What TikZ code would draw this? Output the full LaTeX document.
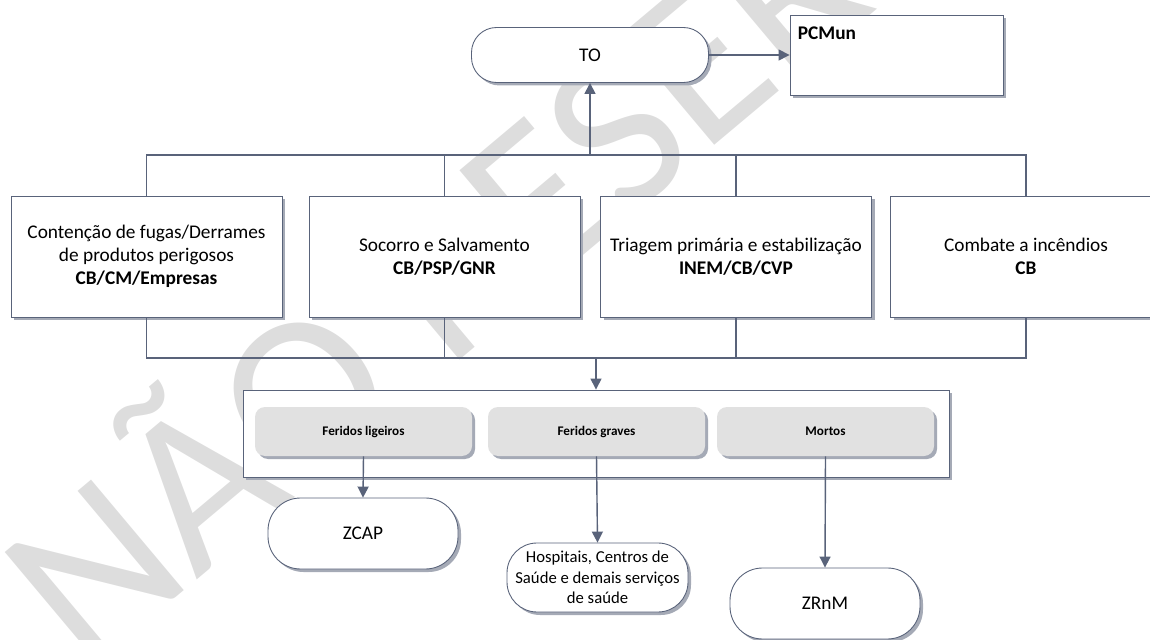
\documentclass[tikz,border=0pt]{standalone}
\usepackage{fontspec}
\setmainfont{Carlito}
\usetikzlibrary{arrows.meta,shadows,positioning}
\definecolor{linec}{RGB}{89,99,122}
\definecolor{wmark}{RGB}{221,221,221}
\definecolor{shadowc}{RGB}{165,170,182}
\definecolor{tabfill}{RGB}{225,225,225}
\begin{document}
\begin{tikzpicture}[
    every node/.style={font=\fontsize{11}{13}\selectfont},
    shad/.style={drop shadow={shadow xshift=0.06cm, shadow yshift=-0.06cm, fill=shadowc, opacity=1}},
    box/.style={draw=linec, line width=0.5pt, fill=white, shad, align=center,
      minimum width=5.42cm, minimum height=2.42cm},
    term/.style={draw=linec, line width=0.5pt, fill=white, shad, align=center,
      minimum width=3.8cm, minimum height=1.42cm, rounded corners=0.65cm},
    tab/.style={fill=tabfill, rounded corners=0.2cm, shad, minimum width=4.34cm,
      minimum height=0.98cm, font=\fontsize{7.5}{9}\selectfont\bfseries},
    link/.style={draw=linec, line width=0.8pt},
    arr/.style={link, -{Triangle[length=0.22cm,width=0.22cm]}}
  ]
  \useasboundingbox (0,0) rectangle (23,12.78);
  % watermark
  \node[rotate=40, text=wmark, anchor=base west, inner sep=0pt,
    font=\fontsize{128}{128}\selectfont] (wm) at (1.7,-0.7) {NÃO RESERVADO};
  % top
  \node[term, minimum width=4.74cm, minimum height=1.1cm, rounded corners=0.5cm] (to) at (11.8,11.68) {TO};
  \node[draw=linec, line width=0.5pt, fill=white, shad, minimum width=4.26cm, minimum height=1.6cm,
    label={[anchor=north west, inner sep=0pt, xshift=0.16cm, yshift=-0.24cm,
      font=\fontsize{11}{13}\selectfont\bfseries]north west:PCMun}] (pcmun) at (17.93,11.68) {};
  % operations
  \node[box] (c1) at (2.93,7.65) {Contenção de fugas/Derrames\\de produtos perigosos\\\textbf{CB/CM/Empresas}};
  \node[box] (c2) at (8.89,7.65) {Socorro e Salvamento\\\textbf{CB/PSP/GNR}};
  \node[box] (c3) at (14.72,7.65) {Triagem primária e estabilização\\\textbf{INEM/CB/CVP}};
  \node[box] (c4) at (20.52,7.65) {Combate a incêndios\\\textbf{CB}};
  % victims
  \node[draw=linec, line width=0.5pt, fill=white, shad, minimum width=14.12cm, minimum height=1.74cm] (grp) at (11.92,4.11) {};
  \node[tab] (fl) at (7.27,4.15) {Feridos ligeiros};
  \node[tab] (fg) at (11.93,4.15) {Feridos graves};
  \node[tab] (mo) at (16.51,4.15) {Mortos};
  \node[term] (zcap) at (7.26,2.11) {ZCAP};
  \node[term, minimum width=3.62cm, minimum height=1.38cm, rounded corners=0.6cm, inner xsep=2pt,
    font=\fontsize{9.5}{11.6}\selectfont] (hosp) at (11.95,1.23)
    {Hospitais, Centros de\\Saúde e demais serviços\\de saúde};
  \node[term] (zrnm) at (16.5,0.71) {ZRnM};
  % connectors
  \coordinate (topbus) at (11.8,9.68);
  \coordinate (botbus) at (11.92,5.62);
  \draw[link] (c1.north) |- (topbus) -| (c4.north);
  \draw[link] (c2.north) -- (c2.north |- topbus);
  \draw[link] (c3.north) -- (c3.north |- topbus);
  \draw[arr] (topbus) -- (to.south);
  \draw[arr] (to.east) -- (pcmun.west);
  \draw[link] (c1.south) |- (botbus) -| (c4.south);
  \draw[link] (c2.south) -- (c2.south |- botbus);
  \draw[link] (c3.south) -- (c3.south |- botbus);
  \draw[arr] (botbus) -- (grp.north);
  \draw[arr] (fl.south) -- (zcap.north);
  \draw[arr] (fg.south) -- (hosp.north);
  \draw[arr] (mo.south) -- (zrnm.north);
\end{tikzpicture}
\end{document}
